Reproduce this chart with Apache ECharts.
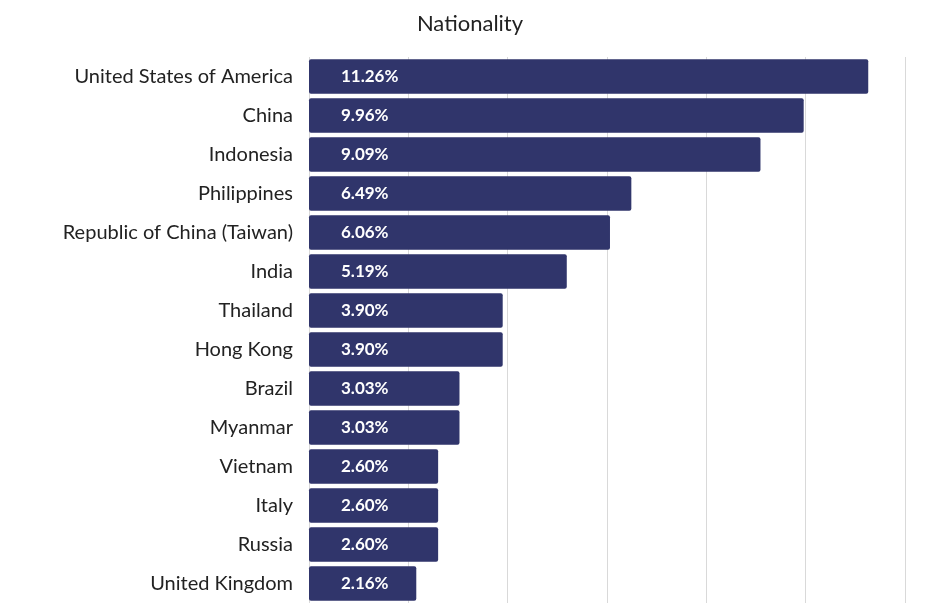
<!DOCTYPE html>
<html><head><meta charset="utf-8">
<script src="https://cdn.jsdelivr.net/npm/echarts@6/dist/echarts.min.js"></script>
<style>html,body{margin:0;padding:0;background:#fff}#c{width:940px;height:608px}</style>
</head><body><div id="c"></div>
<script>
const categories = ["United States of America","China","Indonesia","Philippines","Republic of China (Taiwan)","India","Thailand","Hong Kong","Brazil","Myanmar","Vietnam","Italy","Russia","United Kingdom"];
const values = [11.26,9.96,9.09,6.49,6.06,5.19,3.90,3.90,3.03,3.03,2.60,2.60,2.60,2.16];
const chart = echarts.init(document.getElementById('c'));
chart.setOption({
  animation:false,
  title:{text:'Nationality',left:'center',top:8,textStyle:{fontFamily:'Lato',fontWeight:'normal',fontSize:22,color:'#222'}},
  grid:{left:309,right:35,top:57,bottom:5,containLabel:false},
  xAxis:{type:'value',min:0,max:12,interval:2,axisLabel:{show:false},axisLine:{show:false},axisTick:{show:false},
    splitLine:{lineStyle:{color:'#d9d9d9',width:1}}},
  yAxis:{type:'category',data:categories,inverse:true,axisLine:{show:false},axisTick:{show:false},
    axisLabel:{fontFamily:'Lato',fontSize:20,color:'#222',margin:16}},
  series:[{type:'bar',data:values,barCategoryGap:'12%',itemStyle:{color:'#30356b',borderRadius:2},
    label:{show:true,position:'insideLeft',distance:32,formatter:p=>p.value.toFixed(2)+'%',
      fontFamily:'Lato',fontWeight:'bold',fontSize:17,color:'#fff'}}]
});
</script></body></html>
